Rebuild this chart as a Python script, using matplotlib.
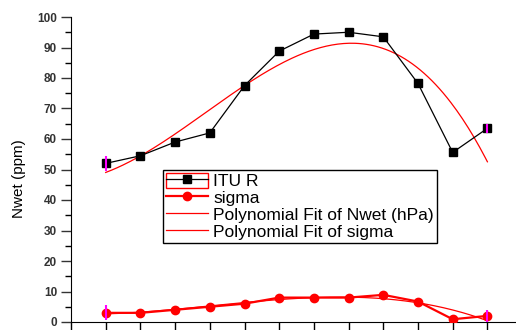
import numpy as np
import matplotlib.pyplot as plt
from matplotlib.patches import Patch
from matplotlib.legend_handler import HandlerTuple
from matplotlib.ticker import MultipleLocator, NullFormatter

plt.rcParams['font.family'] = ['Liberation Sans', 'DejaVu Sans']

month = np.arange(1, 13)
itu_r = [52, 54.5, 59, 62, 77.5, 88.8, 94.4, 95, 93.5, 78.2, 55.6, 63.5]
sigma = [3, 3, 4, 5, 6, 8, 8, 8, 8.9, 6.7, 0.9, 2]

# error bars only shown at the end points
err_x = [1, 12]
itu_err = [2.4, 1.5]
sigma_err = [2.5, 2.0]

fig = plt.figure(figsize=(5.16, 3.30), dpi=100)
ax = fig.add_axes([71 / 516, 1 - 322 / 330, 1 - 71 / 516, (322 - 17) / 330])

# polynomial fits (Origin style)
xs = np.linspace(1, 12, 200)
fit_n = np.polyval(np.polyfit(month, itu_r, 3), xs)
fit_s = np.polyval(np.polyfit(month, sigma, 3), xs)
l_fit_n, = ax.plot(xs, fit_n, color='red', lw=0.9, zorder=2)
l_fit_s, = ax.plot(xs, fit_s, color='red', lw=0.9, zorder=2)

l_itu, = ax.plot(month, itu_r, color='black', lw=0.9, marker='s', ms=6, zorder=3)
l_sig, = ax.plot(month, sigma, color='red', lw=1.6, marker='o', ms=6, zorder=3)

ax.errorbar(err_x, [itu_r[0], itu_r[-1]], yerr=itu_err, fmt='none',
            ecolor='magenta', elinewidth=1.5, capsize=0, zorder=4)
ax.errorbar(err_x, [sigma[0], sigma[-1]], yerr=sigma_err, fmt='none',
            ecolor='magenta', elinewidth=1.5, capsize=0, zorder=4)

ax.set_xlim(0, 445 / 34.7)
ax.set_ylim(0, 100)
ax.spines['top'].set_visible(False)
ax.spines['right'].set_visible(False)
ax.xaxis.set_major_locator(MultipleLocator(1))
ax.xaxis.set_major_formatter(NullFormatter())
ax.yaxis.set_major_locator(MultipleLocator(10))
ax.yaxis.set_minor_locator(MultipleLocator(5))
ax.tick_params(axis='both', which='major', length=7, width=1, direction='out')
ax.tick_params(axis='y', which='minor', length=4, width=1, direction='out')
ax.tick_params(axis='y', labelsize=8.5, colors='#333333', pad=3)
for lab in ax.get_yticklabels():
    lab.set_fontweight('bold')
ax.set_ylabel('Nwet (ppm)', fontsize=11)
ax.yaxis.set_label_coords(-0.102, 0.469)

box = Patch(facecolor='none', edgecolor='red', lw=1)
leg = ax.legend([(box, l_itu), l_sig, l_fit_n, l_fit_s],
                ['ITU R', 'sigma', 'Polynomial Fit of Nwet (hPa)', 'Polynomial Fit of sigma'],
                handler_map={tuple: HandlerTuple(ndivide=1)},
                loc='upper left', bbox_to_anchor=(163 / 516, 1 - 170 / 330),
                bbox_transform=fig.transFigure, fontsize=12.5, frameon=True,
                fancybox=False, edgecolor='black', framealpha=1,
                handlelength=2.45, handleheight=0.95, handletextpad=0.3,
                labelspacing=0.03, borderpad=0.15, borderaxespad=0)
leg.get_frame().set_linewidth(1)

plt.savefig('out.png', dpi=100)
